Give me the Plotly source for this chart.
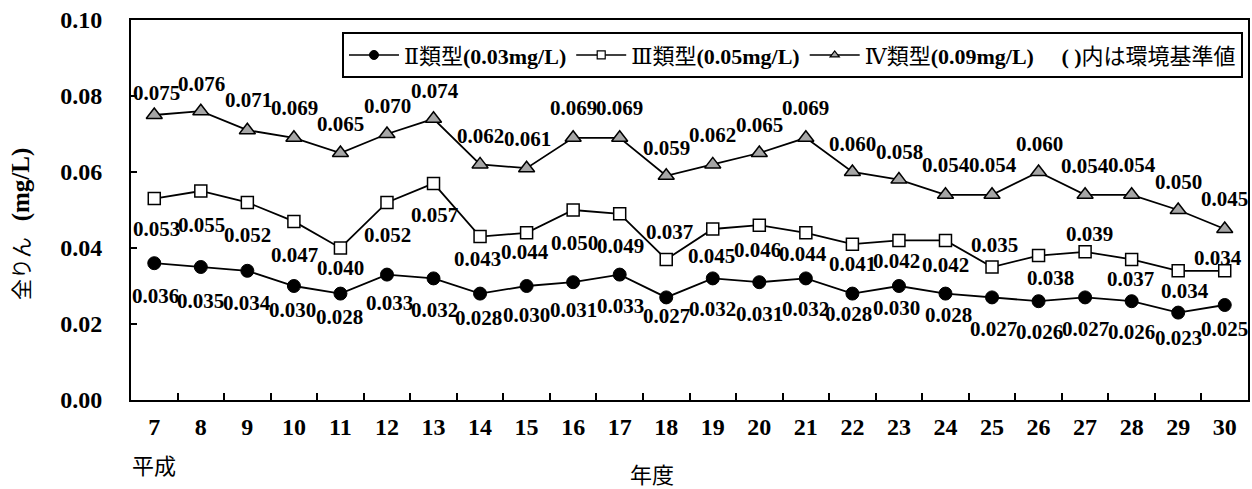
import plotly.graph_objects as go

# 年度（平成）
years = ["7", "8", "9", "10", "11", "12", "13", "14", "15", "16", "17", "18",
         "19", "20", "21", "22", "23", "24", "25", "26", "27", "28", "29", "30"]

# 全りん 年平均値 (mg/L)
type_ii = [0.036, 0.035, 0.034, 0.030, 0.028, 0.033, 0.032, 0.028, 0.030, 0.031, 0.033, 0.027,
           0.032, 0.031, 0.032, 0.028, 0.030, 0.028, 0.027, 0.026, 0.027, 0.026, 0.023, 0.025]
type_iii = [0.053, 0.055, 0.052, 0.047, 0.040, 0.052, 0.057, 0.043, 0.044, 0.050, 0.049, 0.037,
            0.045, 0.046, 0.044, 0.041, 0.042, 0.042, 0.035, 0.038, 0.039, 0.037, 0.034, 0.034]
type_iv = [0.075, 0.076, 0.071, 0.069, 0.065, 0.070, 0.074, 0.062, 0.061, 0.069, 0.069, 0.059,
           0.062, 0.065, 0.069, 0.060, 0.058, 0.054, 0.054, 0.060, 0.054, 0.054, 0.050, 0.045]

series_names = ["Ⅱ類型<b>(0.03mg/L)</b>",
                "Ⅲ類型<b>(0.05mg/L)</b>",
                "Ⅳ類型<b>(0.09mg/L)</b>　 <b>( )</b>内は環境基準値"]

# value-label placement (pixel offsets from each marker: dx right, dy down)
lbl_dx_ii = [1, 0, 0, -1, -1, 3, 1, -2, 0, 0, 1, 0, 0, 0, 0, -4, -2, 3, 1, 1, 0, 0, 0, 0]
lbl_dy_ii = [33, 34, 32, 24, 23, 28, 32, 24, 29, 28, 31, 19, 31, 32, 31, 20, 22, 21, 32, 31, 32, 31, 25, 24]
lbl_dx_iii = [2, 1, 0, 1, 0, 1, 1, -3, -2, 1, 1, 3, -1, -2, -3, 0, -2, 0, 2, 12, 4, -1, 7, -7]
lbl_dy_iii = [30, 34, 33, 34, 20, 33, 32, 22, 19, 33, 32, -27, 27, 25, 21, 20, 21, 25, -22, 22, -18, 20, 20, -13]
lbl_dx_iv = [2, 1, 1, 1, 0, 1, 1, 0, 1, 0, 0, 0, 0, 0, 0, 0, 1, 1, 1, 1, 0, 0, 0, 0]
lbl_dy_iv = [-22, -27, -30, -30, -29, -28, -28, -28, -29, -30, -30, -28, -29, -28, -30, -28, -28, -30, -30, -28, -29, -30, -28, -30]

SERIF = "Liberation Serif, DejaVu Serif, Noto Sans CJK JP"
CJK = "Noto Sans CJK JP"

styles = [
    dict(symbol="circle", size=13, color="black", line=dict(color="black", width=1)),
    dict(symbol="square", size=12, color="white", line=dict(color="black", width=1.5)),
    dict(symbol="triangle-up", size=14, color="#a6a6a6", line=dict(color="black", width=1.5)),
]
legend_styles = [
    dict(symbol="circle", size=9, color="black", line=dict(color="black", width=1)),
    dict(symbol="square", size=8, color="white", line=dict(color="black", width=1.2)),
    dict(symbol="triangle-up", size=8, color="#a6a6a6", line=dict(color="black", width=1.2)),
]

fig = go.Figure()
all_series = [type_ii, type_iii, type_iv]
for vals, st, lst, name in zip(all_series, styles, legend_styles, series_names):
    fig.add_trace(go.Scatter(
        x=years, y=vals, mode="lines+markers",
        line=dict(color="black", width=1.8),
        marker=st, showlegend=False, hoverinfo="x+y",
    ))
    # legend entry drawn with smaller symbols
    fig.add_trace(go.Scatter(
        x=[None], y=[None], mode="lines+markers", name=name,
        line=dict(color="black", width=1.5), marker=lst,
    ))

# value labels; on a category axis annotations are positioned by category index
offsets = [(lbl_dx_ii, lbl_dy_ii), (lbl_dx_iii, lbl_dy_iii), (lbl_dx_iv, lbl_dy_iv)]
for vals, (dxs, dys) in zip(all_series, offsets):
    for idx, (v, dx, dy) in enumerate(zip(vals, dxs, dys)):
        fig.add_annotation(
            x=idx, y=v, xref="x", yref="y", text=f"<b>{v:.3f}</b>",
            showarrow=False, xshift=dx, yshift=-dy,
            font=dict(family=SERIF, size=21, color="black"),
        )

# axis captions
fig.add_annotation(
    xref="paper", yref="paper", x=0, y=0.463, xshift=-110,
    xanchor="center", yanchor="middle",
    text="全りん   <span style='font-size:25px'><b>(mg/L)</b></span>",
    textangle=-90, showarrow=False,
    font=dict(family=SERIF, size=21, color="black"),
)
fig.add_annotation(
    xref="x", yref="paper", x=0, y=-0.168, xanchor="center", yanchor="middle",
    text="平成", showarrow=False,
    font=dict(family=CJK, size=22, color="black"),
)
fig.add_annotation(
    xref="paper", yref="paper", x=0.4665, y=-0.193, xanchor="center", yanchor="middle",
    text="年度", showarrow=False,
    font=dict(family=CJK, size=22, color="black"),
)

fig.update_layout(
    width=1252, height=489,
    margin=dict(l=131, r=2, t=20, b=89),
    paper_bgcolor="white", plot_bgcolor="white",
    showlegend=True,
    legend=dict(
        orientation="h", x=0.9955, xanchor="right", y=0.968, yanchor="top",
        bgcolor="white", bordercolor="black", borderwidth=2,
        font=dict(family=SERIF, size=22, color="black"),
        itemwidth=50,
    ),
    xaxis=dict(
        type="category", range=[-0.5, 23.5],
        showline=True, linecolor="black", linewidth=2, mirror=True,
        ticks="inside", tickson="boundaries", ticklen=7, tickwidth=1.5, tickcolor="black",
        showgrid=False, zeroline=False,
        tickfont=dict(family=SERIF, size=24, color="black"),
        ticklabelstandoff=4,
    ),
    yaxis=dict(
        range=[0, 0.10], dtick=0.02, tickformat=".2f",
        showline=True, linecolor="black", linewidth=2, mirror=True,
        ticks="inside", ticklen=6, tickwidth=1.5, tickcolor="black",
        showgrid=False, zeroline=False,
        tickfont=dict(family=SERIF, size=24, color="black"),
        ticklabelstandoff=22,
    ),
)

fig.update_xaxes(tickprefix="<b>", ticksuffix="</b>")
fig.update_yaxes(tickprefix="<b>", ticksuffix="</b>")

fig.write_html("out.html")
